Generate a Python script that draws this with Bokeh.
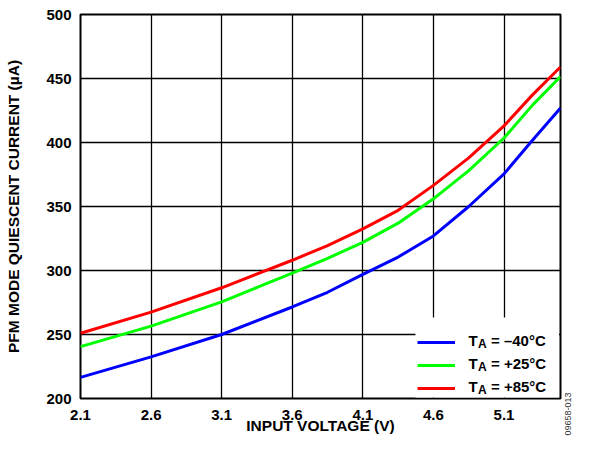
import math
from bokeh.plotting import figure
from bokeh.layouts import row
from bokeh.models import Range1d, FixedTicker, Legend, LegendItem
from bokeh.core.properties import value
from bokeh.embed import file_html
from bokeh.resources import INLINE

# ---- data ----
voltage = [2.1, 2.6, 3.1, 3.6, 3.85, 4.1, 4.35, 4.6, 4.85, 5.1, 5.3, 5.5]
iq_m40 = [216.5, 232.5, 250.0, 271.5, 283.0, 297.0, 310.5, 327.0, 350.0, 375.5, 401.5, 427.0]
iq_p25 = [240.5, 256.5, 275.5, 298.0, 309.5, 322.0, 337.0, 356.0, 378.0, 403.5, 429.0, 451.5]
iq_p85 = [251.0, 267.5, 286.5, 308.0, 319.5, 332.5, 347.0, 366.5, 388.0, 413.0, 437.0, 459.0]

x_ticks = [2.1, 2.6, 3.1, 3.6, 4.1, 4.6, 5.1]
x_tick_labels = ["2.1", "2.6", "3.1", "3.6", "4.1", "4.6", "5.1"]
y_ticks = [200, 250, 300, 350, 400, 450, 500]
y_tick_labels = ["200", "250", "300", "350", "400", "450", "500"]

x_title = "INPUT VOLTAGE (V)"
y_title = "PFM MODE QUIESCENT CURRENT (\u00b5A)"
figure_id = "09658-013"

series_temps = ["= \u201340\u00b0C", "= +25\u00b0C", "= +85\u00b0C"]
series_colors = ["#0000FF", "#00FF00", "#FF0000"]
series_values = [iq_m40, iq_p25, iq_p85]

FONT = "Liberation Sans"

# frame geometry (canvas pixels) and axis ranges
X0, X1, Y0, Y1 = 2.1, 5.5, 200, 500
FL, FR, FT, FB = 80, 560, 14, 398
H = 438


def px_x(px):
    return X0 + (px - FL) * (X1 - X0) / (FR - FL)


def px_y(py):
    return Y0 + (FB - py) * (Y1 - Y0) / (FB - FT)


p = figure(width=562, height=H, output_backend="svg", toolbar_location=None,
           x_range=Range1d(X0, X1), y_range=Range1d(Y0, Y1),
           min_border_left=FL, min_border_right=2, min_border_top=FT,
           min_border_bottom=H - FB, background_fill_color="white",
           border_fill_color="white")

p.outline_line_color = "black"
p.outline_line_width = 2
p.outline_line_alpha = 1

for ax, ticks, labels in ((p.xaxis[0], x_ticks, x_tick_labels), (p.yaxis[0], y_ticks, y_tick_labels)):
    ax.ticker = FixedTicker(ticks=ticks)
    ax.major_label_overrides = {t: l for t, l in zip(ticks, labels)}
    ax.axis_line_color = None
    ax.major_tick_line_color = None
    ax.minor_tick_line_color = None
    ax.major_tick_out = 0
    ax.major_tick_in = 0
    ax.major_label_text_font = FONT
    ax.major_label_text_font_style = "bold"
    ax.major_label_text_font_size = "15px"
    ax.major_label_text_color = "black"
    ax.axis_label_text_font = FONT
    ax.axis_label_text_font_style = "bold"
    ax.axis_label_text_font_size = "15.5px"
    ax.axis_label_text_color = "black"

p.xaxis.axis_label = x_title
p.yaxis.axis_label = y_title
p.xaxis.major_label_standoff = 11
p.xaxis.axis_label_standoff = -6
p.yaxis.major_label_standoff = 9
p.yaxis.axis_label_standoff = 21

for g, ticks in ((p.xgrid[0], x_ticks), (p.ygrid[0], y_ticks)):
    g.ticker = FixedTicker(ticks=ticks)
    g.grid_line_color = "black"
    g.grid_line_alpha = 1
    g.grid_line_width = 1.3

# white legend panel (covers the grid, like the reference)
p.quad(left=[px_x(415)], right=[px_x(558.5)], top=[px_y(317)], bottom=[px_y(397)],
       fill_color="white", line_color=None)

renderers = []
for vals, col in zip(series_values, series_colors):
    r = p.line(voltage, vals, line_color=col, line_width=3)
    renderers.append(r)

items = [LegendItem(label=" ", renderers=[r]) for r in renderers]
legend = Legend(items=items, location=(337, 0), padding=8, spacing=3,
                glyph_width=38, glyph_height=20, label_height=20,
                label_width=82, label_standoff=5, margin=0,
                background_fill_alpha=0, border_line_color=None)
p.add_layout(legend)

# legend texts: T with subscript A, then the temperature
base_py = [340 + 23 * i for i in range(len(series_temps))]
p.text(x=[px_x(468)] * 3, y=[px_y(b) for b in base_py], text=["T"] * 3,
       text_font=value(FONT), text_font_style="bold", text_font_size="15px",
       text_baseline="alphabetic", text_align="left", text_color="black")
p.text(x=[px_x(477.5)] * 3, y=[px_y(b + 3.3) for b in base_py], text=["A"] * 3,
       text_font=value(FONT), text_font_style="bold", text_font_size="12px",
       text_baseline="alphabetic", text_align="left", text_color="black")
p.text(x=[px_x(490.5)] * 3, y=[px_y(b) for b in base_py], text=series_temps,
       text_font=value(FONT), text_font_style="bold", text_font_size="15px",
       text_baseline="alphabetic", text_align="left", text_color="black")

# narrow strip on the right: figure number as a vertical tick label below its frame
s = figure(width=11, height=H, output_backend="svg", toolbar_location=None,
           x_range=Range1d(0, 1), y_range=Range1d(0, 1),
           y_axis_type=None, min_border=0,
           min_border_left=0, min_border_right=0, min_border_top=FT,
           min_border_bottom=H - FB, background_fill_color="white",
           border_fill_color="white", outline_line_color=None)
s.grid.visible = False
sa = s.xaxis[0]
sa.ticker = FixedTicker(ticks=[0.5])
sa.major_label_overrides = {0.5: figure_id}
sa.major_label_orientation = math.pi / 2
sa.major_label_standoff = -6
sa.axis_line_color = None
sa.major_tick_line_color = None
sa.minor_tick_line_color = None
sa.major_tick_out = 0
sa.major_tick_in = 0
sa.major_label_text_font = FONT
sa.major_label_text_font_size = "9px"
sa.major_label_text_color = "#333333"

layout = row(p, s, spacing=0)
open("out.html", "w").write(file_html(layout, INLINE))
